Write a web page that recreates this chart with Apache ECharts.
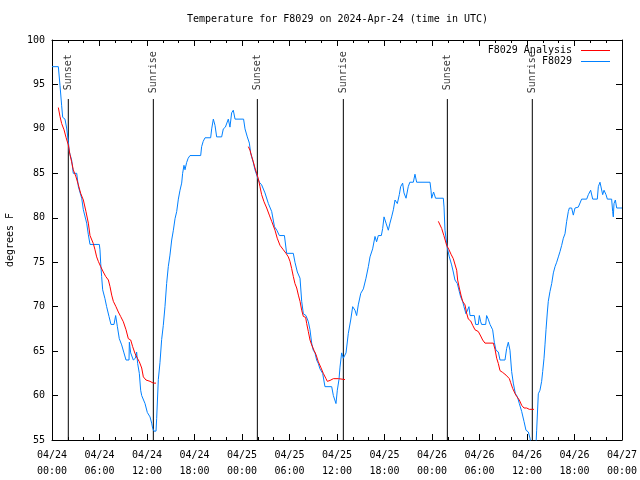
<!DOCTYPE html>
<html><head><meta charset="utf-8">
<script src="https://cdn.jsdelivr.net/npm/echarts@6/dist/echarts.min.js"></script>
<style>html,body{margin:0;padding:0;background:#fff}#c{width:640px;height:480px}</style>
</head><body><div id="c"></div>
<script>
// hours since 2024-04-24 00:00 UTC
const xTickLabels = ['04/24\n00:00','04/24\n06:00','04/24\n12:00','04/24\n18:00','04/25\n00:00','04/25\n06:00','04/25\n12:00','04/25\n18:00','04/26\n00:00','04/26\n06:00','04/26\n12:00','04/26\n18:00','04/27\n00:00'];

const obsHours = [0.0,0.8,1.01,1.22,1.35,1.64,1.85,2.06,2.19,2.48,2.69,3.12,3.33,3.75,3.96,4.38,4.59,4.8,5.98,6.06,6.15,6.27,6.4,6.69,6.9,7.2,7.45,7.83,8.04,8.25,8.5,8.8,9.09,9.35,9.73,9.77,9.94,10.27,10.53,10.69,10.82,11.03,11.2,11.33,11.75,12.04,12.38,12.59,12.72,12.88,13.14,13.22,13.43,13.64,13.85,14.06,14.27,14.48,14.69,14.9,15.12,15.33,15.54,15.75,15.96,16.17,16.38,16.5,16.67,16.8,17.0,17.2,17.43,18.78,18.9,19.1,19.33,20.04,20.17,20.38,20.59,20.8,21.43,21.64,21.9,22.27,22.48,22.69,22.9,23.12,24.2,24.38,24.67,24.93,25.09,25.43,25.64,25.94,26.19,26.48,26.9,27.33,27.75,28.1,28.4,28.72,29.36,29.64,30.48,30.69,30.99,31.33,31.54,31.75,32.08,32.38,32.59,32.8,33.0,33.22,33.43,33.64,33.85,34.19,34.48,35.33,35.54,35.87,36.04,36.25,36.38,36.59,36.8,37.14,37.43,37.73,37.98,38.27,38.48,38.69,39.0,39.33,39.66,39.96,40.17,40.5,40.8,41.0,41.22,41.6,41.77,41.94,42.19,42.48,42.69,42.9,43.12,43.33,43.62,43.87,44.04,44.29,44.46,44.72,45.0,45.2,45.64,45.85,46.06,47.75,47.87,47.96,48.2,48.45,49.43,49.52,49.64,49.8,49.94,50.19,50.48,50.69,50.9,51.2,51.45,51.62,51.87,52.04,52.29,52.46,52.67,52.8,53.35,53.52,53.85,53.98,54.15,54.27,54.78,54.9,55.1,55.33,55.66,55.87,56.08,56.38,56.59,57.22,57.43,57.64,57.85,58.06,58.27,58.53,58.78,59.03,59.33,59.62,59.87,60.17,60.38,60.5,61.14,61.22,61.43,61.64,61.85,61.98,62.15,62.27,62.4,62.57,62.69,62.9,63.12,63.33,63.54,63.75,63.96,64.17,64.38,64.59,64.8,65.01,65.22,65.35,65.64,65.85,66.06,66.48,66.9,67.54,67.75,68.04,68.3,68.88,69.01,69.22,69.43,69.56,69.73,69.98,70.15,70.69,70.82,70.9,70.99,71.16,71.33,72.0];
const obsTemps = [97,97,94.9,92.6,91.3,91.1,90.1,88.6,87.4,86.5,85,85,83.5,82.2,80.9,79.4,78.1,77,77,76.4,74.9,73.4,71.9,70.9,70,68.9,68,68,69,67.8,66.4,65.7,64.8,64,64,66,64.8,64,64.2,64.9,63.6,62.5,60.6,60,59.1,58.1,57.6,56.9,56.3,56,56,57.4,61.8,63.7,66.3,67.9,70,72.6,74.5,75.8,77.5,78.6,79.9,80.7,82.1,83.1,83.9,85,85.9,85.4,86.2,86.7,87,87,88,88.6,89,89,90,91.1,90.4,89.1,89.1,90,90.2,91.1,90.2,91.8,92.1,91.1,91.1,90,89.1,88.4,87.3,86.2,85.4,84.6,84,83.7,82.8,81.6,80.7,79,78.6,78,78,76,76,75,73.9,73.2,70.6,69.2,69,68.3,67.4,65.9,65.1,64.8,64,63.6,63,62.5,61,61,60,59.1,60.6,61.8,63.2,64.8,64.2,64.8,67,68.5,70,69.6,69,70.2,71.5,72,73.2,74.5,75.6,76.5,77.9,77.3,78,78,78.8,80.1,79.4,78.6,79.4,80.1,80.9,82,81.6,82.6,83.5,83.9,82.8,82.2,83.5,84,84,84.9,84,84,83.1,82.2,82.9,82.2,82.2,81.2,78.6,77.5,76.6,75.6,74.7,73.9,73,72.6,71.7,71.1,70.6,70,69.2,69.4,70,69,69,68,68,69,68.3,68,68,69,68.6,68,67.4,66,65.1,64.9,64,64,65.3,66,65.1,62.7,61.4,60.2,59.9,59.1,58.2,57.1,56.1,55.9,55.2,54.5,54.5,56.1,60.2,60.6,61.6,62.7,64.2,65.7,67.4,69.4,70.6,71.7,72.6,73.8,74.5,75,75.6,76.2,76.9,77.7,78.2,79.6,80.7,81.1,81.1,80.3,81.1,81.2,82.1,82.1,82.6,83.1,82.1,82.1,83.5,84,84,82.6,83.1,82.6,82.1,82.1,80.7,80.1,81.6,82,81.1,81.1];

// null entries separate the three analysis segments
const anaHours = [0.8,1.01,1.22,1.52,1.77,2.06,2.27,2.48,2.69,3.03,3.33,3.62,3.96,4.29,4.59,4.8,5.22,5.43,5.64,5.85,6.15,6.48,6.78,7.12,7.33,7.54,7.75,8.08,8.38,8.67,9.01,9.35,9.64,9.94,10.19,10.48,10.78,11.03,11.33,11.54,11.87,12.38,12.8,13.14,
  null,
  24.8,25.01,25.22,25.43,25.64,25.85,26.06,26.27,26.48,26.78,27.12,27.45,27.75,28.17,28.45,28.8,29.22,29.56,29.85,30.06,30.27,30.48,30.69,30.91,31.12,31.33,31.54,31.75,32.04,32.17,32.38,32.59,32.8,33.09,33.35,33.64,33.94,34.27,34.61,34.78,35.12,35.54,36.17,37.01,
  null,
  48.8,49.01,49.22,49.5,49.85,50.15,50.4,50.69,50.9,51.12,51.24,51.45,51.66,51.87,52.17,52.38,52.59,52.88,53.14,53.43,53.85,54.15,54.4,54.69,55.33,55.75,55.96,56.17,56.38,56.59,56.93,57.35,57.77,57.94,58.19,58.48,58.69,59.03,59.33,59.62,59.96,60.29,60.88];
const anaTemps = [92.4,91.4,90.6,89.9,89.05,88.2,87.1,86.3,85.4,84.6,83.7,82.75,82,80.7,79.4,78,77.1,76.4,75.6,75.1,74.5,73.9,73.4,73,72.25,71.3,70.6,70,69.4,68.9,68.3,67.4,66.4,66.25,65.5,64.75,64.2,63.8,63.1,62.1,61.75,61.6,61.4,61.4,
  null,
  88,87.6,86.9,86.3,85.6,85,84.4,83.5,82.6,81.8,81.1,80.3,79.6,78.6,77.7,76.9,76.4,76,75.6,75.1,74.3,73.4,72.6,72.1,71.3,70.6,69.6,68.9,68.8,68.1,67.2,66.25,65.7,65.1,64.6,63.8,63.2,62.5,61.9,61.6,61.7,61.9,61.9,61.8,
  null,
  79.6,79.45,78.8,78,76.9,76.4,75.9,75.4,75.25,74.1,73,72.1,71.3,70.6,70.2,69.25,68.6,68.4,67.9,67.4,67.2,66.7,66.25,65.9,65.9,65.9,65.2,64.2,63.6,62.8,62.6,62.3,61.9,61.45,60.8,60.25,59.9,59.5,58.9,58.6,58.6,58.45,58.45];

const eventHours = [2.06, 12.8, 25.94, 36.8, 49.94, 60.67];
const eventNames = ['Sunset', 'Sunrise', 'Sunset', 'Sunrise', 'Sunset', 'Sunrise'];

const FONT = 'DejaVu Sans Mono';
const obsData = obsHours.map((h, i) => [h, obsTemps[i]]);
const anaData = anaHours.map((h, i) => h === null ? [anaHours[i - 1], '-'] : [h, anaTemps[i]]);

const chart = echarts.init(document.getElementById('c'), null, {renderer: 'canvas'});

const axisCommon = {
  type: 'value', min: 0, max: 72, interval: 6,
  axisLine: {show: true, onZero: false, lineStyle: {color: '#000', width: 1}},
  axisTick: {show: true, inside: true, length: 6, lineStyle: {color: '#000'}},
  minorTick: {show: true, splitNumber: 3, length: 3, lineStyle: {color: '#000'}},
  splitLine: {show: false}
};
const yCommon = {
  type: 'value', min: 55, max: 100, interval: 5,
  axisLine: {show: true, onZero: false, lineStyle: {color: '#000', width: 1}},
  axisTick: {show: true, inside: true, length: 6, lineStyle: {color: '#000'}},
  splitLine: {show: false}
};

const eventSeries = eventHours.map(h => ({
  type: 'line', silent: true, symbol: 'none', animation: false,
  lineStyle: {color: '#000', width: 1},
  data: [[h, 55], [h, 93.36]], z: 1
}));

chart.setOption({
  animation: false,
  backgroundColor: '#fff',
  title: {
    text: 'Temperature for F8029 on 2024-Apr-24 (time in UTC)',
    left: 187, top: 14, padding: 0,
    textStyle: {fontFamily: FONT, fontSize: 10, fontWeight: 'normal', color: '#000'}
  },
  legend: {
    orient: 'vertical', right: 30, top: 45, align: 'right', padding: 0,
    icon: 'rect', itemWidth: 29, itemHeight: 1, itemGap: 0,
    data: [
      {name: 'F8029 Analysis', itemStyle: {color: '#ff0000'}},
      {name: 'F8029', itemStyle: {color: '#0080ff'}}
    ],
    textStyle: {fontFamily: FONT, fontSize: 10, color: '#000', lineHeight: 11, padding: [0, 4, 0, 0]}
  },
  grid: {left: 52, right: 18, top: 40, bottom: 40, containLabel: false, outerBoundsMode: 'none'},
  xAxis: [
    Object.assign({}, axisCommon, {
      position: 'bottom',
      axisLabel: {
        margin: 7, fontFamily: FONT, fontSize: 10, color: '#000', lineHeight: 16,
        formatter: v => xTickLabels[Math.round(v / 6)]
      }
    }),
    Object.assign({}, axisCommon, {position: 'top', axisLabel: {show: false}})
  ],
  yAxis: [
    Object.assign({}, yCommon, {
      position: 'left',
      name: 'degrees F', nameLocation: 'middle', nameGap: 37, nameRotate: 90,
      nameTextStyle: {fontFamily: FONT, fontSize: 10, color: '#000'},
      axisLabel: {margin: 7, fontFamily: FONT, fontSize: 10, color: '#000'}
    }),
    Object.assign({}, yCommon, {position: 'right', axisLabel: {show: false}})
  ],
  series: [
    {
      name: 'F8029 Analysis', type: 'line', symbol: 'none', connectNulls: false,
      lineStyle: {color: '#ff0000', width: 1}, itemStyle: {color: '#ff0000'},
      data: anaData, z: 3
    },
    {
      name: 'F8029', type: 'line', symbol: 'none',
      lineStyle: {color: '#0080ff', width: 1}, itemStyle: {color: '#0080ff'},
      data: obsData, z: 2
    },
    ...eventSeries,
    {
      type: 'scatter', silent: true, symbolSize: 1,
      itemStyle: {color: 'rgba(0,0,0,0)'},
      data: eventHours.map((h, i) => ({value: [h, 96.15], name: eventNames[i]})),
      label: {
        show: true, position: 'inside', rotate: 90, offset: [2, 0],
        formatter: p => p.name,
        fontFamily: FONT, fontSize: 10, color: '#000'
      },
      z: 4
    }
  ]
});
</script></body></html>
